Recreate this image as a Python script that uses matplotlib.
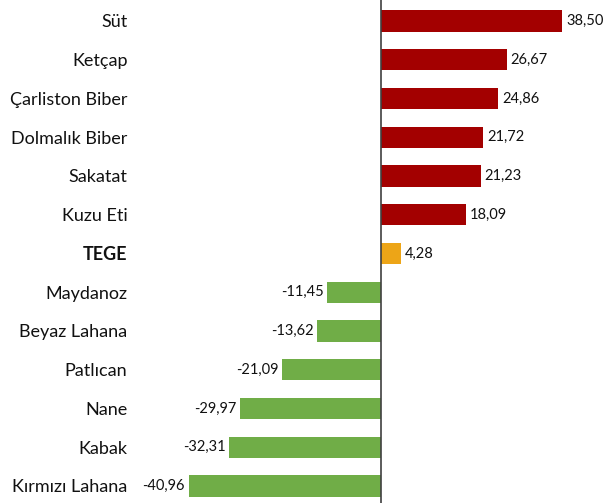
import matplotlib.pyplot as plt
import numpy as np

plt.rcParams['font.family'] = ['Lato', 'DejaVu Sans']

names = ["Süt", "Ketçap", "Çarliston Biber", "Dolmalık Biber", "Sakatat", "Kuzu Eti",
         "TEGE", "Maydanoz", "Beyaz Lahana", "Patlıcan", "Nane", "Kabak", "Kırmızı Lahana"]
values = [38.50, 26.67, 24.86, 21.72, 21.23, 18.09,
          4.28, -11.45, -13.62, -21.09, -29.97, -32.31, -40.96]

red = "#A30000"
orange = "#EDA517"
green = "#70AD47"
colors = []
for n, v in zip(names, values):
    if n == "TEGE":
        colors.append(orange)
    elif v > 0:
        colors.append(red)
    else:
        colors.append(green)

fig = plt.figure(figsize=(6.13, 5.03), dpi=100)
ax = fig.add_axes([140/613, 0, 473/613, 1])

y = np.arange(len(names))
ax.barh(y, values, height=0.55, color=colors, zorder=2)
ax.axvline(0, color="#404040", linewidth=1.2, zorder=3)

ax.set_xlim(-51.3, 49.3)
ax.set_ylim(12.44, -0.54)

ax.set_yticks(y)
ax.set_yticklabels(names, fontsize=13, color="#111111")
ax.get_yticklabels()[6].set_fontweight("bold")
ax.tick_params(axis="y", length=0, pad=9)
ax.set_xticks([])
for s in ax.spines.values():
    s.set_visible(False)

for yi, v in zip(y, values):
    txt = f"{v:.2f}".replace(".", ",")
    if v >= 0:
        ax.text(v + 0.8, yi, txt, va="center", ha="left", fontsize=10.5, color="#111111")
    else:
        ax.text(v - 0.8, yi, txt, va="center", ha="right", fontsize=10.5, color="#111111")

fig.savefig("out.png", dpi=100)
